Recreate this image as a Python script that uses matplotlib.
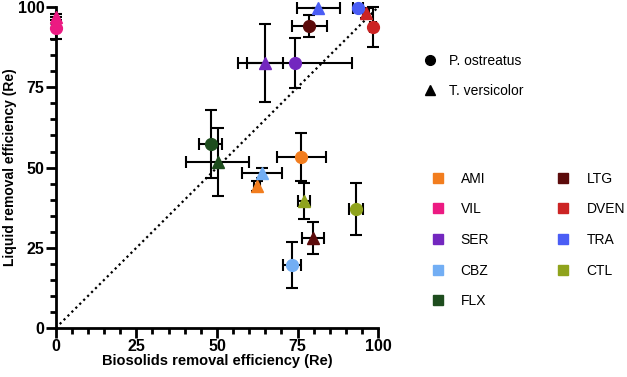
import numpy as np
import matplotlib.pyplot as plt
from matplotlib.lines import Line2D
from matplotlib.ticker import MultipleLocator

plt.rcParams['font.family'] = ['Liberation Sans', 'DejaVu Sans']

# compounds, colours
compounds = ["AMI", "VIL", "SER", "CBZ", "FLX", "LTG", "DVEN", "TRA", "CTL"]
colors = ["#F27D1E", "#EC1A82", "#7327BF", "#72AEF4", "#1E4D1E",
          "#5C0B0B", "#CC2424", "#4A5DF5", "#8FA31C"]

# P. ostreatus (circles)
po_x = [76.1, 0.0, 74.2, 73.3, 48.1, 78.6, 98.4, 93.8, 93.2]
po_xerr = [7.6, 0.0, 17.7, 2.8, 3.6, 5.4, 1.0, 1.5, 2.2]
po_y = [53.3, 93.5, 82.6, 19.6, 57.3, 94.1, 93.8, 99.8, 37.1]
po_yerr = [7.6, 3.5, 7.9, 7.2, 10.6, 3.4, 6.3, 0.0, 8.1]

# T. versicolor (triangles)
tv_x = [62.4, 0.0, 64.9, 64.0, 50.3, 79.8, 96.3, 81.4, 77.0]
tv_xerr = [1.0, 0.0, 5.6, 6.2, 9.8, 3.4, 1.0, 6.7, 1.8]
tv_y = [44.2, 97.0, 82.5, 48.3, 51.7, 28.0, 98.1, 99.6, 39.6]
tv_yerr = [1.5, 1.0, 12.2, 1.5, 10.6, 5.0, 1.5, 0.0, 5.5]

fig = plt.figure(figsize=(6.27, 3.77), dpi=100)
ax = fig.add_axes([0.089, 0.130, 0.514, 0.851])

ax.plot([0, 100], [0, 100], color="black", linestyle=(0, (1, 1.5)), linewidth=1.6, zorder=1)

for i in range(len(compounds)):
    ax.errorbar(po_x[i], po_y[i], xerr=po_xerr[i], yerr=po_yerr[i], fmt="none",
                ecolor="black", elinewidth=1.5, capsize=4, capthick=1.5, zorder=2, clip_on=False)
    ax.errorbar(tv_x[i], tv_y[i], xerr=tv_xerr[i], yerr=tv_yerr[i], fmt="none",
                ecolor="black", elinewidth=1.5, capsize=4, capthick=1.5, zorder=2, clip_on=False)
    ax.plot(po_x[i], po_y[i], "o", color=colors[i], markersize=8.5, zorder=3, clip_on=False)
    ax.plot(tv_x[i], tv_y[i], "^", color=colors[i], markersize=8.5, zorder=3, clip_on=False)

ax.set_xlim(0, 100)
ax.set_ylim(0, 100)
ax.xaxis.set_major_locator(MultipleLocator(25))
ax.yaxis.set_major_locator(MultipleLocator(25))
ax.xaxis.set_minor_locator(MultipleLocator(5))
ax.yaxis.set_minor_locator(MultipleLocator(5))
for s in ["top", "right"]:
    ax.spines[s].set_visible(False)
for s in ["left", "bottom"]:
    ax.spines[s].set_linewidth(2)
ax.tick_params(which="major", length=7, width=2, labelsize=11.5, pad=1)
ax.tick_params(which="minor", length=4, width=2)
for lab in ax.get_xticklabels() + ax.get_yticklabels():
    lab.set_fontweight("bold")

ax.set_xlabel("Biosolids removal efficiency (Re)", fontsize=10.5, fontweight="bold", labelpad=0)
ax.set_ylabel("Liquid removal efficiency (Re)", fontsize=10, fontweight="bold", labelpad=1)

shape_handles = [
    Line2D([], [], marker="o", color="black", linestyle="none", markersize=7, label="P. ostreatus"),
    Line2D([], [], marker="^", color="black", linestyle="none", markersize=7, label="T. versicolor"),
]
fig.legend(handles=shape_handles, loc="upper left", bbox_to_anchor=(0.664, 0.876),
           frameon=False, fontsize=10, handlelength=1, handletextpad=0.86,
           borderpad=0, labelspacing=1.15)

color_handles = [Line2D([], [], marker="s", color=c, linestyle="none", markersize=7, label=n)
                 for n, c in zip(compounds, colors)]
fig.legend(handles=color_handles, loc="upper left", bbox_to_anchor=(0.676, 0.563), ncol=2,
           frameon=False, fontsize=10, handlelength=1, handletextpad=1.15,
           borderpad=0, labelspacing=1.2, columnspacing=4.85)

fig.savefig("out.png", dpi=100)
